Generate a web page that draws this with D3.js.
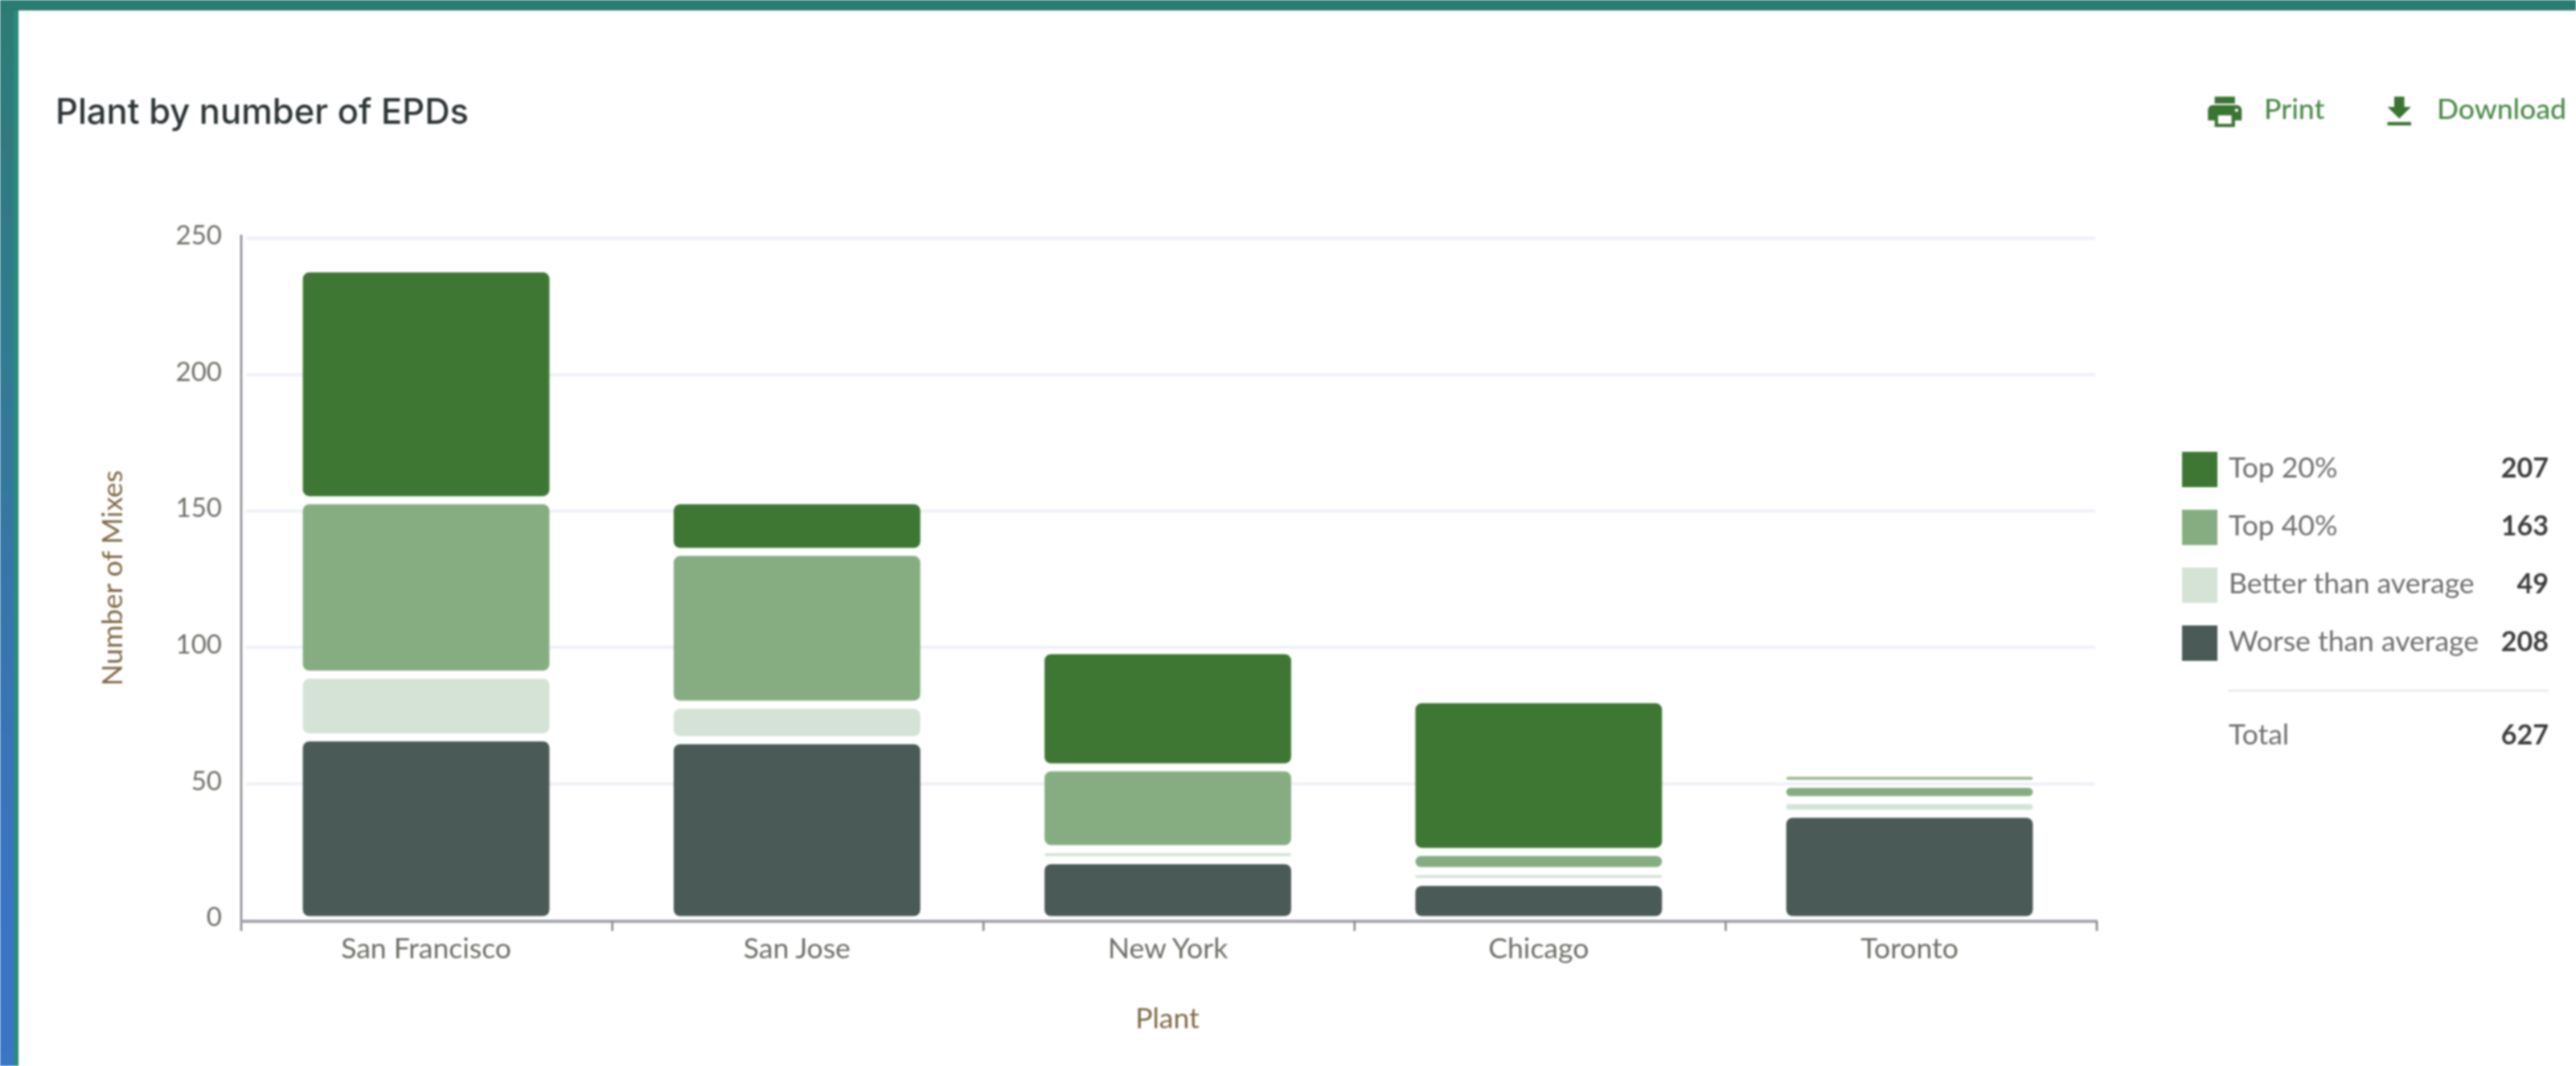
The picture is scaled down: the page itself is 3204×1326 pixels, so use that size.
<!DOCTYPE html>
<html><head><meta charset="utf-8">
<script src="https://cdn.jsdelivr.net/npm/d3@7"></script>
<style>html,body{margin:0;padding:0;background:#fff;overflow:hidden}svg{display:block;filter:blur(1.2px)}</style>
</head><body><div id="chart"></div>
<script>
const plants = ["San Francisco","San Jose","New York","Chicago","Toronto"];
const seriesNames = ["Worse than average","Better than average","Top 40%","Top 20%"];
const worse = [67,66,22,14,39];
const better = [23,13,4,4,5];
const top40 = [64,56,30,7,6];
const top20 = [85,19,43,56,4];
const colors = ["#4a5a56","#d4e3d6","#86ad82","#3e7733"];
const yTicks = [0,50,100,150,200,250];
const legendNames = ["Top 20%","Top 40%","Better than average","Worse than average"];
const legendTotals = [207,163,49,208];
const legendColors = ["#3e7733","#86ad82","#d4e3d6","#4a5a56"];
const totalValue = 627;

const W=3204,H=1326;
const svg=d3.select("#chart").append("svg").attr("width",W).attr("height",H);
const defs=svg.append("defs");
const g=defs.append("linearGradient").attr("id","edge").attr("x1",0).attr("x2",0).attr("y1",0).attr("y2",1);
g.append("stop").attr("offset","0").attr("stop-color","#2e7b72");
g.append("stop").attr("offset","0.35").attr("stop-color","#337a94");
g.append("stop").attr("offset","0.62").attr("stop-color","#3875b0");
g.append("stop").attr("offset","0.85").attr("stop-color","#3a74c4");
g.append("stop").attr("offset","1").attr("stop-color","#3a76c6");
svg.append("rect").attr("x",-4).attr("y",-4).attr("width",22).attr("height",H+8).attr("fill","url(#edge)");
svg.append("rect").attr("x",17).attr("y",-4).attr("width",6).attr("height",H+8).attr("fill","#2a8a7c");
svg.append("rect").attr("x",-4).attr("y",-4).attr("width",W+8).attr("height",17).attr("fill","#2a7b72");

svg.append("text").attr("x",69).attr("y",154).attr("font-family","Inter").attr("font-weight",500)
  .attr("font-size",43.5).attr("fill","#2d3436").text("Plant by number of EPDs");

// actions
const green="#3a7433";
svg.append("path").attr("d","M19 8H5c-1.66 0-3 1.34-3 3v6h4v4h12v-4h4v-6c0-1.66-1.34-3-3-3zm-3 11H8v-5h8v5zm3-7c-.55 0-1-.45-1-1s.45-1 1-1 1 .45 1 1-.45 1-1 1zm-1-9H6v4h12V3z")
  .attr("transform","translate(2742,114) scale(2.1)").attr("fill",green);
svg.append("path").attr("d","M19 9h-4V3H9v6H5l7 7 7-7zM5 18v2h14v-2H5z")
  .attr("transform","translate(2959,114) scale(2.1)").attr("fill",green);
svg.selectAll("text.act").data([["Print",2816],["Download",3031]]).join("text").attr("class","act")
  .attr("x",d=>d[1]).attr("y",148).attr("font-family","Lato").attr("font-weight",500)
  .attr("font-size",35.5).attr("fill","#4b8a48").text(d=>d[0]);

// scales
const x=d3.scaleBand().domain(plants).range([298.7,2606.4]).paddingInner(0.335).paddingOuter(0.169);
const xTick=d3.scaleBand().domain(plants).range([300,2608]);
const y=d3.scaleLinear().domain([0,250]).range([1144.5,296.5]);

// grid
svg.append("g").selectAll("line").data(yTicks.filter(d=>d>0)).join("line")
  .attr("x1",306).attr("x2",2606).attr("y1",d=>y(d)).attr("y2",d=>y(d))
  .attr("stroke","#f0f0f9").attr("stroke-width",4);

// bars
const rows=plants.map((p,i)=>({plant:p,[seriesNames[0]]:worse[i],[seriesNames[1]]:better[i],[seriesNames[2]]:top40[i],[seriesNames[3]]:top20[i]}));
const stack=d3.stack().keys(seriesNames)(rows);
const inset=5;
svg.append("g").selectAll("g").data(stack).join("g").attr("fill",(d,i)=>colors[i])
  .selectAll("rect").data(d=>d).join("rect")
  .attr("x",d=>x(d.data.plant)).attr("width",x.bandwidth())
  .attr("y",d=>y(d[1])+inset)
  .attr("height",d=>Math.max(2,y(d[0])-y(d[1])-2*inset))
  .attr("rx",d=>Math.min(8,Math.max(1,(y(d[0])-y(d[1])-2*inset)/2)))
  .filter(d=>d.data.plant==="Toronto"&&d[1]-d[0]<=4&&d[0]>49).attr("fill","#9dbb98");

// axes
const font="Lato";
const yAxis=d3.axisLeft(y).tickValues(yTicks).tickSize(0).tickPadding(24);
const ya=svg.append("g").attr("transform","translate(300,0)").call(yAxis);
ya.select(".domain").remove();
ya.selectAll("text").attr("font-family",font).attr("font-size",33).attr("fill","#6e6e68").attr("dy","0.22em");
svg.append("line").attr("x1",300).attr("x2",300).attr("y1",292).attr("y2",1158).attr("stroke","#85858f").attr("stroke-width",2.5);

const xAxis=d3.axisBottom(x).tickSize(0).tickPadding(21);
const xa=svg.append("g").attr("transform","translate(0,1146)").call(xAxis);
xa.select(".domain").remove();
xa.selectAll("text").attr("font-family",font).attr("font-size",35.5).attr("fill","#6e6e68");
svg.append("line").attr("x1",300).attr("x2",2609).attr("y1",1146).attr("y2",1146).attr("stroke","#a5a5ad").attr("stroke-width",4);
svg.append("g").selectAll("line").data(plants).join("line")
  .attr("x1",d=>xTick(d)+xTick.bandwidth()).attr("x2",d=>xTick(d)+xTick.bandwidth()).attr("y1",1146).attr("y2",1158)
  .attr("stroke","#85858f").attr("stroke-width",2.5);

svg.append("text").attr("transform","translate(152,719) rotate(-90)").attr("text-anchor","middle")
  .attr("font-family",font).attr("font-size",35.5).attr("fill","#806a48").text("Number of Mixes");
svg.append("text").attr("x",1452).attr("y",1279).attr("text-anchor","middle")
  .attr("font-family",font).attr("font-size",35.5).attr("fill","#806a48").text("Plant");

// legend
const ly=d3.scalePoint().domain(legendNames).range([584,800]);
const lg=svg.append("g").selectAll("g").data(legendNames).join("g").attr("transform",d=>`translate(0,${ly(d)})`);
lg.append("rect").attr("x",2714).attr("y",-22).attr("width",44).attr("height",44).attr("fill",(d,i)=>legendColors[i]);
lg.append("text").attr("x",2772).attr("y",10).attr("font-family",font).attr("font-size",35.5).attr("fill","#6e6e6e").text(d=>d);
lg.append("text").attr("x",3170).attr("y",10).attr("text-anchor","end").attr("font-family",font).attr("font-weight",700)
  .attr("font-size",34).attr("fill","#3c3c3c").text((d,i)=>legendTotals[i]);
svg.append("line").attr("x1",2771).attr("x2",3170).attr("y1",859).attr("y2",859).attr("stroke","#e8e8ee").attr("stroke-width",2.5);
svg.append("text").attr("x",2772).attr("y",926).attr("font-family",font).attr("font-size",35.5).attr("fill","#6e6e6e").text("Total");
svg.append("text").attr("x",3170).attr("y",926).attr("text-anchor","end").attr("font-family",font).attr("font-weight",700)
  .attr("font-size",34).attr("fill","#3c3c3c").text(totalValue);
</script></body></html>
